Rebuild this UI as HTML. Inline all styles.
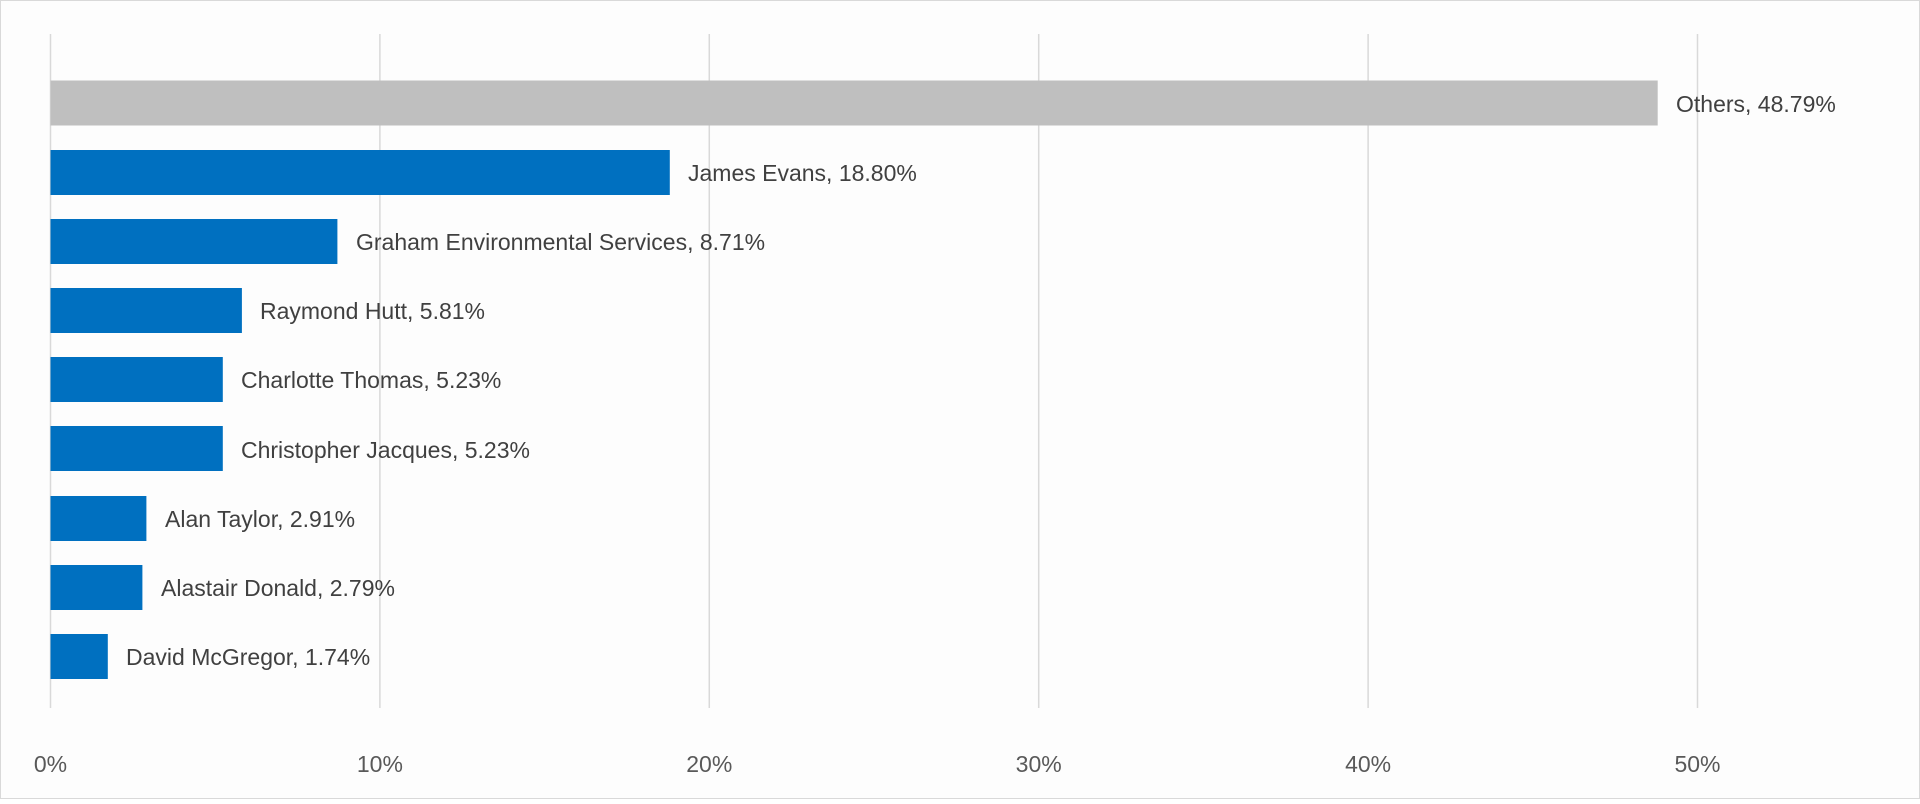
<!DOCTYPE html>
<html><head><style>
body{margin:0;background:#fff}
svg text{font-family:"Liberation Sans",sans-serif;font-size:23px;fill:#404040}
</style></head><body>
<svg width="1920" height="799" xmlns="http://www.w3.org/2000/svg">
<rect x="0.5" y="0.5" width="1919" height="798" fill="#fdfdfd" stroke="#d9d9d9"/>
<g stroke="#d9d9d9" stroke-width="1.5">
<line x1="50.5" y1="34" x2="50.5" y2="708"/>
<line x1="379.9" y1="34" x2="379.9" y2="708"/>
<line x1="709.3" y1="34" x2="709.3" y2="708"/>
<line x1="1038.7" y1="34" x2="1038.7" y2="708"/>
<line x1="1368.1" y1="34" x2="1368.1" y2="708"/>
<line x1="1697.5" y1="34" x2="1697.5" y2="708"/>
</g>
<g>
<rect x="50.5" y="80.5" width="1607.2" height="45" fill="#bfbfbf"/>
<rect x="50.5" y="150" width="619.3" height="45" fill="#0070c0"/>
<rect x="50.5" y="219" width="286.9" height="45" fill="#0070c0"/>
<rect x="50.5" y="288" width="191.4" height="45" fill="#0070c0"/>
<rect x="50.5" y="357" width="172.3" height="45" fill="#0070c0"/>
<rect x="50.5" y="426" width="172.3" height="45" fill="#0070c0"/>
<rect x="50.5" y="496" width="95.9" height="45" fill="#0070c0"/>
<rect x="50.5" y="565" width="91.9" height="45" fill="#0070c0"/>
<rect x="50.5" y="634" width="57.3" height="45" fill="#0070c0"/>
</g>
<g>
<text x="1676" y="112">Others, 48.79%</text>
<text x="688" y="181">James Evans, 18.80%</text>
<text x="356" y="250">Graham Environmental Services, 8.71%</text>
<text x="260" y="319">Raymond Hutt, 5.81%</text>
<text x="241" y="388">Charlotte Thomas, 5.23%</text>
<text x="241" y="458">Christopher Jacques, 5.23%</text>
<text x="165" y="527">Alan Taylor, 2.91%</text>
<text x="161" y="596">Alastair Donald, 2.79%</text>
<text x="126" y="665">David McGregor, 1.74%</text>
</g>
<g text-anchor="middle">
<text x="50.5" y="772" style="fill:#595959">0%</text>
<text x="379.9" y="772" style="fill:#595959">10%</text>
<text x="709.3" y="772" style="fill:#595959">20%</text>
<text x="1038.7" y="772" style="fill:#595959">30%</text>
<text x="1368.1" y="772" style="fill:#595959">40%</text>
<text x="1697.5" y="772" style="fill:#595959">50%</text>
</g>
</svg>
</body></html>
